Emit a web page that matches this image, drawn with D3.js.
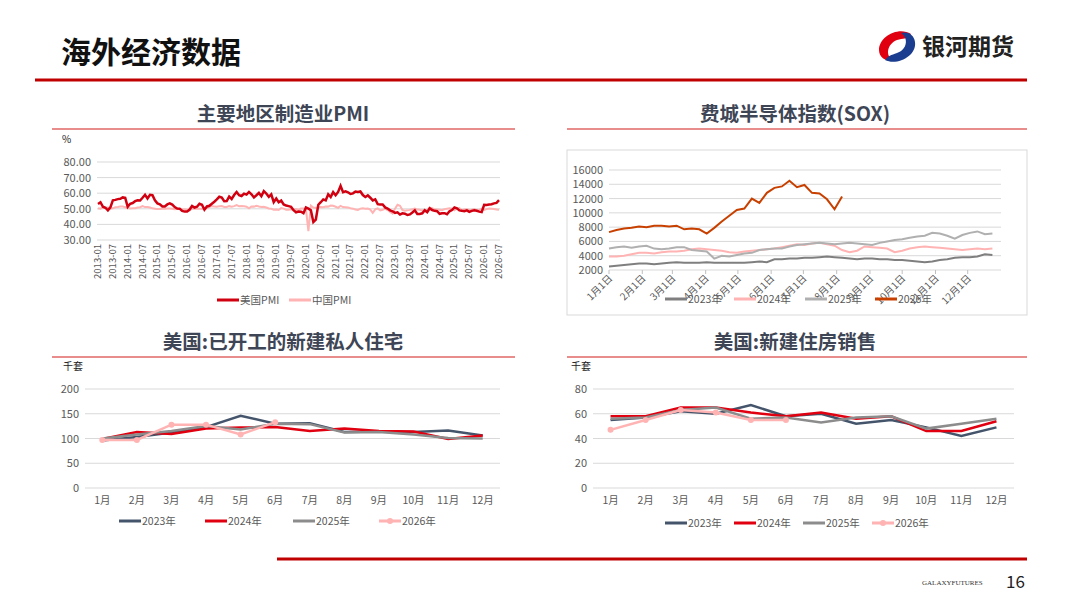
<!DOCTYPE html>
<html><head><meta charset="utf-8">
<script src="https://cdn.jsdelivr.net/npm/d3@7"></script>
<style>body{margin:0;background:#fff}svg{font-family:"Noto Sans CJK SC","Noto Sans",sans-serif}</style>
</head><body><svg id="c" width="1080" height="608"></svg>
<script>
const pmiUS = [53.1,54.2,51.3,50.7,49.0,50.9,55.4,55.7,56.2,56.4,57.3,57.0,
51.3,53.2,53.7,54.9,55.4,55.3,57.1,59.0,56.6,59.0,58.7,55.5,
53.5,52.9,51.5,51.5,52.8,53.5,52.7,51.1,50.2,50.1,48.6,48.2,
48.2,49.5,51.8,50.8,51.3,53.2,52.6,49.4,51.5,51.9,53.2,54.5,
56.0,57.7,57.2,54.8,54.9,57.8,56.3,58.8,60.8,58.7,58.2,59.7,
59.1,60.8,59.3,57.3,58.7,60.2,58.1,61.3,59.8,57.7,59.3,54.3,
56.6,54.2,55.3,52.8,52.1,51.7,51.2,49.1,47.8,48.3,48.1,47.2,
50.9,50.1,49.1,41.5,43.1,52.6,54.2,56.0,55.4,59.3,57.5,60.7,
58.7,60.8,64.7,60.7,61.2,60.6,59.5,59.9,61.1,60.8,61.1,58.8,
57.6,58.6,57.1,55.4,56.1,53.0,52.8,52.8,50.9,50.2,49.0,48.4,
47.4,47.7,46.3,47.1,46.9,46.0,46.4,47.6,49.0,46.7,46.7,47.1,
49.1,47.8,50.3,49.2,48.7,48.5,46.8,47.2,47.2,46.5,48.4,49.2,
50.9,50.3,49.0,48.7,48.5,49.0,48.0,48.7,49.1,48.7,48.2,47.9,
52.6,52.4,52.7,52.9,53.5,53.8,55.5];
const pmiCN = [50.4,50.1,50.9,50.6,50.8,50.1,50.3,51.0,51.1,51.4,51.4,51.0,
50.5,50.2,50.3,50.4,50.8,51.0,51.7,51.1,51.1,50.8,50.3,50.1,
49.8,49.9,50.1,50.1,50.2,50.2,50.0,49.7,49.8,49.8,49.6,49.7,
49.4,49.0,50.2,50.1,50.1,50.0,49.9,50.4,50.4,51.2,51.7,51.4,
51.3,51.6,51.8,51.2,51.2,51.7,51.4,51.7,52.4,51.6,51.8,51.6,
51.3,50.3,51.5,51.4,51.9,51.5,51.2,51.3,50.8,50.2,50.0,49.4,
49.5,49.2,50.5,50.1,49.4,49.4,49.7,49.5,49.8,49.3,50.2,50.2,
50.0,35.7,52.0,50.8,50.6,50.9,51.1,51.0,51.5,51.4,52.1,51.9,
51.3,50.6,51.9,51.1,51.0,50.9,50.4,50.1,49.6,49.2,50.1,50.3,
50.1,50.2,49.5,47.4,49.6,50.2,49.0,49.4,50.1,49.2,48.0,47.0,
50.1,52.6,51.9,49.2,48.8,49.0,49.3,49.7,50.2,49.5,49.4,49.0,
49.2,49.1,50.8,50.4,49.5,49.5,49.4,49.1,49.8,50.1,50.3,50.1,
49.1,50.2,50.5,49.0,49.5,49.7,49.3,49.4,49.8,49.0,49.2,50.1,
49.3,49.8,50.2,50.0,49.8,49.5,49.4];
const pmiTicks = [];
for(let y=2013;y<=2026;y++){pmiTicks.push(y+"-01");pmiTicks.push(y+"-07");}

const sox2023 = [2500,2600,2700,2800,2900,2900,2800,2900,3000,3100,3000,3000,3000,3100,3000,3000,3000,3000,3000,3100,3200,3100,3500,3500,3600,3600,3700,3700,3800,3900,3800,3700,3600,3500,3600,3600,3500,3500,3400,3400,3300,3200,3100,3200,3400,3500,3700,3800,3800,3900,4200,4100];
const sox2024 = [3900,3900,4000,4200,4400,4400,4300,4500,4600,4600,4700,4900,5000,4900,4800,4700,4500,4400,4600,4700,4800,4900,5000,5200,5400,5600,5500,5700,5800,5600,5400,4800,4500,4700,5300,5200,5100,5000,4500,4700,5000,5200,5300,5200,5100,5000,4900,4800,4900,5000,4900,5000];
const sox2025 = [5000,5200,5300,5100,5300,5400,5000,4900,5000,5200,5200,4800,4700,4600,3600,4000,3900,4100,4300,4400,4800,4900,5000,5000,5300,5500,5600,5700,5800,5700,5600,5700,5800,5700,5600,5500,5800,6000,6200,6300,6500,6700,6800,7200,7100,6800,6400,6900,7200,7400,7000,7100];
const sox2026 = [7300,7600,7800,7900,8100,8000,8200,8200,8100,8200,7700,7800,7700,7100,7900,8800,9600,10400,10600,12000,11400,12800,13500,13700,14500,13600,13900,12800,12700,11900,10500,12300];
const soxMonths = ["1月1日","2月1日","3月1日","4月1日","5月1日","6月1日","7月1日","8月1日","9月1日","10月1日","11月1日","12月1日"];

const months = ["1月","2月","3月","4月","5月","6月","7月","8月","9月","10月","11月","12月"];
const starts2023 = [96,103,112,123,146,130,131,113,114,113,116,106];
const starts2024 = [99,113,109,120,122,123,115,120,115,114,99,106];
const starts2025 = [100,108,115,125,118,130,129,112,113,108,101,100];
const starts2026 = [97,97,128,128,108,133];
const sales2023 = [55,57,62,60,67,58,60,52,55,49,42,49];
const sales2024 = [58,58,65,65,61,58,61,56,58,46,46,54];
const sales2025 = [56,57,63,65,56,57,53,57,58,48,52,56];
const sales2026 = [47,55,63,61,55,55];

const svg = d3.select("#c");
const RED="#c00000";
svg.append("text").attr("x",61).attr("y",63).attr("font-size",30).attr("font-weight","bold").attr("fill","#111").text("海外经济数据");
svg.append("line").attr("x1",35).attr("x2",1027).attr("y1",80).attr("y2",80).attr("stroke",RED).attr("stroke-width",3);
const lg = svg.append("g").attr("transform","translate(897,46)");
lg.append("path").attr("d","M14,-12 C2,-20 -18,-10 -18,4 C-18,12 -10,16 -4,14 C-12,10 -10,-2 0,-6 C6,-8 10,-6 14,-12Z").attr("fill","#e00010");
lg.append("path").attr("d","M-12,14 C0,20 20,10 18,-4 C17,-12 10,-15 4,-13 C12,-8 10,4 0,7 C-6,9 -9,10 -12,14Z").attr("fill","#1a3d8f");
svg.append("text").attr("x",922).attr("y",55).attr("font-size",23).attr("font-weight","bold").attr("fill","#222").text("银河期货");
svg.append("line").attr("x1",277).attr("x2",1027).attr("y1",559).attr("y2",559).attr("stroke",RED).attr("stroke-width",3);
svg.append("text").attr("x",922).attr("y",585).attr("font-size",7).attr("font-family","Liberation Serif").attr("fill","#333").text("GALAXYFUTURES");
svg.append("text").attr("x",1006).attr("y",588).attr("font-size",17).attr("fill","#222").text("16");

function title(cx,y,x1,x2,t){
  svg.append("text").attr("x",cx).attr("y",y).attr("text-anchor","middle").attr("font-size",19.5).attr("font-weight","bold").attr("fill","#3e4656").text(t);
  svg.append("line").attr("x1",x1).attr("x2",x2).attr("y1",y+8).attr("y2",y+8).attr("stroke","#e06666").attr("stroke-width",1.5);
}
title(283,121,52,515,"主要地区制造业PMI");
title(795,121,567,1027,"费城半导体指数(SOX)");
title(283,349,52,515,"美国:已开工的新建私人住宅");
title(795,349,567,1027,"美国:新建住房销售");

function gridY(y,x0,x1,ticks,fmt){
  const g=svg.append("g");
  ticks.forEach(t=>{
    g.append("line").attr("x1",x0).attr("x2",x1).attr("y1",y(t)).attr("y2",y(t)).attr("stroke","#d9d9d9");
    g.append("text").attr("x",x0-6).attr("y",y(t)+4).attr("text-anchor","end").attr("font-size",11).attr("fill","#595959").text(fmt(t));
  });
}
function legend(items,y,xs){
  items.forEach((it,i)=>{
    const x=xs[i];
    svg.append("line").attr("x1",x).attr("x2",x+22).attr("y1",y).attr("y2",y).attr("stroke",it.c).attr("stroke-width",it.w||3);
    if(it.dot) svg.append("circle").attr("cx",x+11).attr("cy",y).attr("r",3).attr("fill",it.c);
    svg.append("text").attr("x",x+23).attr("y",y+4).attr("font-size",10.5).attr("fill","#595959").text(it.t);
  });
}
{
  const x=d3.scaleLinear().domain([0,162]).range([98,499]);
  const y=d3.scaleLinear().domain([30,80]).range([240,162]);
  svg.append("text").attr("x",62).attr("y",143).attr("font-size",10).attr("fill","#222").text("%");
  gridY(y,97,500,[30,40,50,60,70,80],d=>d.toFixed(2));
  pmiTicks.forEach((t,i)=>{
    const xx=x(i*6);
    svg.append("text").attr("transform",`translate(${xx+3},${244}) rotate(-90)`).attr("text-anchor","end").attr("font-size",9.5).attr("fill","#595959").text(t);
  });
  const line=d3.line().x((d,i)=>x(i)).y(d=>y(d));
  svg.append("path").datum(pmiCN).attr("d",line).attr("fill","none").attr("stroke","#ffb3b3").attr("stroke-width",2);
  svg.append("path").datum(pmiUS).attr("d",line).attr("fill","none").attr("stroke","#d00010").attr("stroke-width",2.5);
  legend([{t:"美国PMI",c:"#d00010"},{t:"中国PMI",c:"#ffb3b3"}],300,[217,289]);
}
{
  svg.append("rect").attr("x",567).attr("y",150).attr("width",460).attr("height",165).attr("fill","none").attr("stroke","#d9d9d9");
  const x=d3.scaleLinear().domain([0,365]).range([609,1001]);
  const y=d3.scaleLinear().domain([2000,16000]).range([270,170]);
  gridY(y,609,1001,d3.range(2000,16001,2000),d=>d);
  const md=[0,31,59,90,120,151,181,212,243,273,304,334];
  md.forEach((d,i)=>{
    svg.append("line").attr("x1",x(d)).attr("x2",x(d)).attr("y1",270).attr("y2",274).attr("stroke","#bfbfbf");
    svg.append("text").attr("transform",`translate(${x(d)+4},${279}) rotate(-45)`).attr("text-anchor","end").attr("font-size",10).attr("fill","#595959").text(soxMonths[i]);
  });
  const line=d3.line().x((d,i)=>x(i*7)).y(d=>y(d));
  [[sox2023,"#7f7f7f"],[sox2024,"#ffb3b3"],[sox2025,"#b0b0b0"],[sox2026,"#c84000"]].forEach(([s,c])=>{
    svg.append("path").datum(s).attr("d",line).attr("fill","none").attr("stroke",c).attr("stroke-width",2);
  });
  legend([{t:"2023年",c:"#7f7f7f"},{t:"2024年",c:"#ffb3b3"},{t:"2025年",c:"#b0b0b0"},{t:"2026年",c:"#c84000"}],299,[665,734,805,875]);
}
function monthChart(x0,x1,ymax,step,a,b,c,d){
  const x=d3.scalePoint().domain(months).range([x0,x1]).padding(0.5);
  const y=d3.scaleLinear().domain([0,ymax]).range([488,389]);
  svg.append("text").attr("x",x0-22).attr("y",370).attr("font-size",10).attr("fill","#222").text("千套");
  gridY(y,x0,x1,d3.range(0,ymax+1,step),v=>v);
  months.forEach(m=>svg.append("text").attr("x",x(m)).attr("y",504).attr("text-anchor","middle").attr("font-size",10.5).attr("fill","#595959").text(m));
  const line=d3.line().x((v,i)=>x(months[i])).y(v=>y(v));
  [[a,"#44546a"],[b,"#e00010"],[c,"#8c8c8c"],[d,"#ffb3b3"]].forEach(([s,col],k)=>{
    svg.append("path").datum(s).attr("d",line).attr("fill","none").attr("stroke",col).attr("stroke-width",2.5);
    if(k===3) s.forEach((v,i)=>svg.append("circle").attr("cx",x(months[i])).attr("cy",y(v)).attr("r",3).attr("fill",col));
  });
}
monthChart(85,500,200,50,starts2023,starts2024,starts2025,starts2026);
legend([{t:"2023年",c:"#44546a"},{t:"2024年",c:"#e00010"},{t:"2025年",c:"#8c8c8c"},{t:"2026年",c:"#ffb3b3",dot:true}],521,[119,205,293,379]);
monthChart(593,1014,80,20,sales2023,sales2024,sales2025,sales2026);
legend([{t:"2023年",c:"#44546a"},{t:"2024年",c:"#e00010"},{t:"2025年",c:"#8c8c8c"},{t:"2026年",c:"#ffb3b3",dot:true}],523,[665,734,803,872]);
</script></body></html>
